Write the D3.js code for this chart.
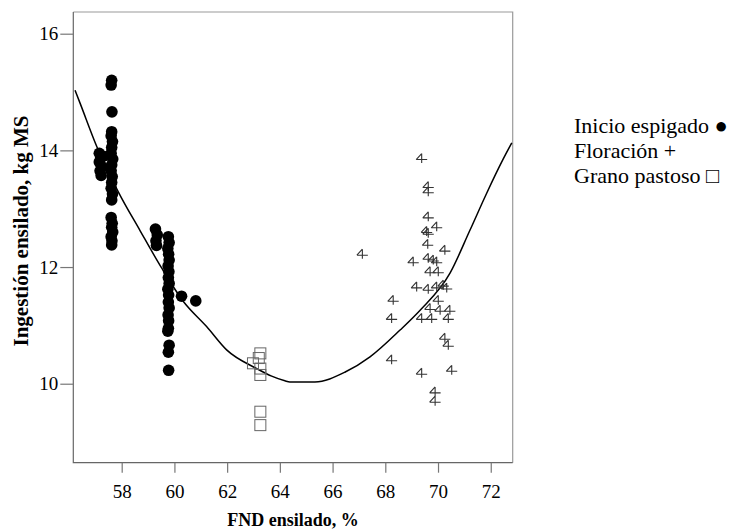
<!DOCTYPE html>
<html>
<head>
<meta charset="utf-8">
<script src="https://cdn.jsdelivr.net/npm/d3@7"></script>
<style>
  body { margin: 0; background: #fff; }
  svg { font-family: "Liberation Serif", "Times New Roman", serif; }
</style>
</head>
<body>
<div id="chart"></div>
<script>
// Inicio espigado (filled circles)
const inicioX = [57.15, 57.2, 57.15, 57.25, 57.18, 57.22, 57.3,
  57.62, 57.6, 57.63, 57.62, 57.6, 57.65, 57.62, 57.6, 57.66, 57.62, 57.6, 57.64, 57.62, 57.6, 57.65, 57.62,
  57.6, 57.64, 57.62, 57.66, 57.6, 57.63, 57.62,
  59.28, 59.35, 59.3, 59.32,
  59.77, 59.8, 59.75, 59.78, 59.8, 59.76, 59.79, 59.77, 59.8, 59.75, 59.78, 59.77, 59.8, 59.76, 59.78, 59.77, 59.75, 59.8, 59.77, 59.78,
  60.27, 60.81];
const inicioY = [13.95, 13.87, 13.8, 13.72, 13.65, 13.57, 13.9,
  15.2, 15.12, 14.66, 14.32, 14.25, 14.15, 14.05, 13.95, 13.85, 13.75, 13.65, 13.55, 13.45, 13.35, 13.25, 13.15,
  12.85, 12.75, 12.68, 12.6, 12.52, 12.45, 12.38,
  12.65, 12.55, 12.45, 12.37,
  12.52, 12.42, 12.32, 12.22, 12.12, 12.02, 11.92, 11.82, 11.72, 11.62, 11.52, 11.4, 11.3, 11.18, 11.08, 10.95, 10.9, 10.66, 10.54, 10.23,
  11.5, 11.42];

// Floración (plus markers)
const floracionX = [69.38, 69.63, 69.63, 69.63, 69.95, 69.57, 69.63, 69.61, 70.26, 69.06, 69.63, 69.82, 69.95, 69.7, 70.01,
  69.19, 69.63, 69.95, 70.2, 70.33, 68.3, 70.01, 69.7, 70.08, 70.45, 68.24, 69.38, 69.76, 70.39, 70.26, 70.39,
  68.24, 69.38, 70.52, 69.89, 69.89, 67.13];
const floracionY = [13.86, 13.38, 13.29, 12.86, 12.69, 12.61, 12.58, 12.39, 12.29, 12.09, 12.15, 12.12, 12.09, 11.92, 11.92,
  11.66, 11.62, 11.66, 11.69, 11.64, 11.43, 11.43, 11.29, 11.26, 11.26, 11.12, 11.12, 11.12, 11.12, 10.78, 10.66,
  10.41, 10.18, 10.23, 9.86, 9.7, 12.22];

// Grano pastoso (open squares)
const granoX = [63.26, 63.2, 62.98, 63.26, 63.26, 63.26, 63.26];
const granoY = [10.52, 10.44, 10.35, 10.26, 10.15, 9.52, 9.29];

// fitted curve
const curveX = [56.23, 56.42, 57.07, 57.87, 58.69, 59.52, 60.34, 61.22, 61.98, 63.12, 63.69, 64.19, 64.38, 65.33,
  66.48, 67.42, 68.56, 69.32, 70.46, 71.21, 71.85, 72.46, 72.8];
const curveY = [15.03, 14.81, 14.05, 13.29, 12.63, 11.98, 11.41, 10.98, 10.58, 10.26, 10.13, 10.05, 10.03, 10.03,
  10.2, 10.46, 10.92, 11.26, 11.9, 12.63, 13.27, 13.84, 14.13];

const xTicks = [58, 60, 62, 64, 66, 68, 70, 72];
const yTicks = [10, 12, 14, 16];
const legendLabels = ["Inicio espigado \u25CF", "Floraci\u00F3n +", "Grano pastoso \u25A1"];

const width = 742, height = 529;
const plot = {left: 73.3, right: 512.7, top: 12, bottom: 462.7};

const svg = d3.select("#chart").append("svg")
  .attr("width", width)
  .attr("height", height);

const x = d3.scaleLinear().domain([56.164, 72.833]).range([plot.left, plot.right]);
const y = d3.scaleLinear().domain([8.646, 16.372]).range([plot.bottom, plot.top]);

// frame
svg.append("path")
  .attr("d", `M${plot.left},${plot.top}H${plot.right}V${plot.bottom}`)
  .attr("fill", "none").attr("stroke", "#9a9a9a").attr("stroke-width", 1.2);
svg.append("path")
  .attr("d", `M${plot.left},${plot.top}V${plot.bottom}H${plot.right}`)
  .attr("fill", "none").attr("stroke", "#666").attr("stroke-width", 1.2);

const xAxis = svg.append("g")
  .attr("transform", `translate(0,${plot.bottom})`)
  .call(d3.axisBottom(x).tickValues(xTicks).tickSize(10).tickPadding(12));
const yAxis = svg.append("g")
  .attr("transform", `translate(${plot.left},0)`)
  .call(d3.axisLeft(y).tickValues(yTicks).tickSize(13).tickPadding(2));

[xAxis, yAxis].forEach(g => {
  g.select(".domain").remove();
  g.selectAll(".tick line").attr("stroke", "#777").attr("stroke-width", 1.2);
  g.selectAll(".tick text")
    .attr("font-family", "Liberation Serif, serif")
    .attr("font-size", 19)
    .attr("fill", "#000");
});

// curve
const pts = curveX.map((d, i) => [d, curveY[i]]);
svg.append("path")
  .datum(pts)
  .attr("fill", "none")
  .attr("stroke", "#000")
  .attr("stroke-width", 1.5)
  .attr("d", d3.line().curve(d3.curveMonotoneX).x(d => x(d[0])).y(d => y(d[1])));

// squares
svg.append("g").selectAll("rect")
  .data(granoX.map((d, i) => [d, granoY[i]]))
  .join("rect")
  .attr("x", d => x(d[0]) - 5.5)
  .attr("y", d => y(d[1]) - 5.5)
  .attr("width", 11).attr("height", 11)
  .attr("fill", "none")
  .attr("stroke", "#666")
  .attr("stroke-width", 1);

// plus markers ("4"-like)
const plusPath = "M-5.5,1H5.5M0,-5V4.5M0,-5L-5.5,1";
svg.append("g").selectAll("path")
  .data(floracionX.map((d, i) => [d, floracionY[i]]))
  .join("path")
  .attr("transform", d => `translate(${x(d[0])},${y(d[1])})`)
  .attr("d", plusPath)
  .attr("fill", "none")
  .attr("stroke", "#333")
  .attr("stroke-width", 1.1);

// circles
svg.append("g").selectAll("circle")
  .data(inicioX.map((d, i) => [d, inicioY[i]]))
  .join("circle")
  .attr("cx", d => x(d[0]))
  .attr("cy", d => y(d[1]))
  .attr("r", 5.8)
  .attr("fill", "#000");

// axis titles
svg.append("text")
  .attr("x", 293)
  .attr("y", 526)
  .attr("text-anchor", "middle")
  .attr("font-weight", "bold")
  .attr("font-size", 18)
  .text("FND ensilado, %");

svg.append("text")
  .attr("transform", "translate(28,231) rotate(-90)")
  .attr("text-anchor", "middle")
  .attr("font-weight", "bold")
  .attr("font-size", 21)
  .text("Ingesti\u00F3n ensilado, kg MS");

// legend
svg.append("g").selectAll("text")
  .data(legendLabels)
  .join("text")
  .attr("x", 574)
  .attr("y", (d, i) => 133 + i * 25)
  .attr("font-size", 22)
  .attr("fill", "#000")
  .text(d => d);
</script>
</body>
</html>
